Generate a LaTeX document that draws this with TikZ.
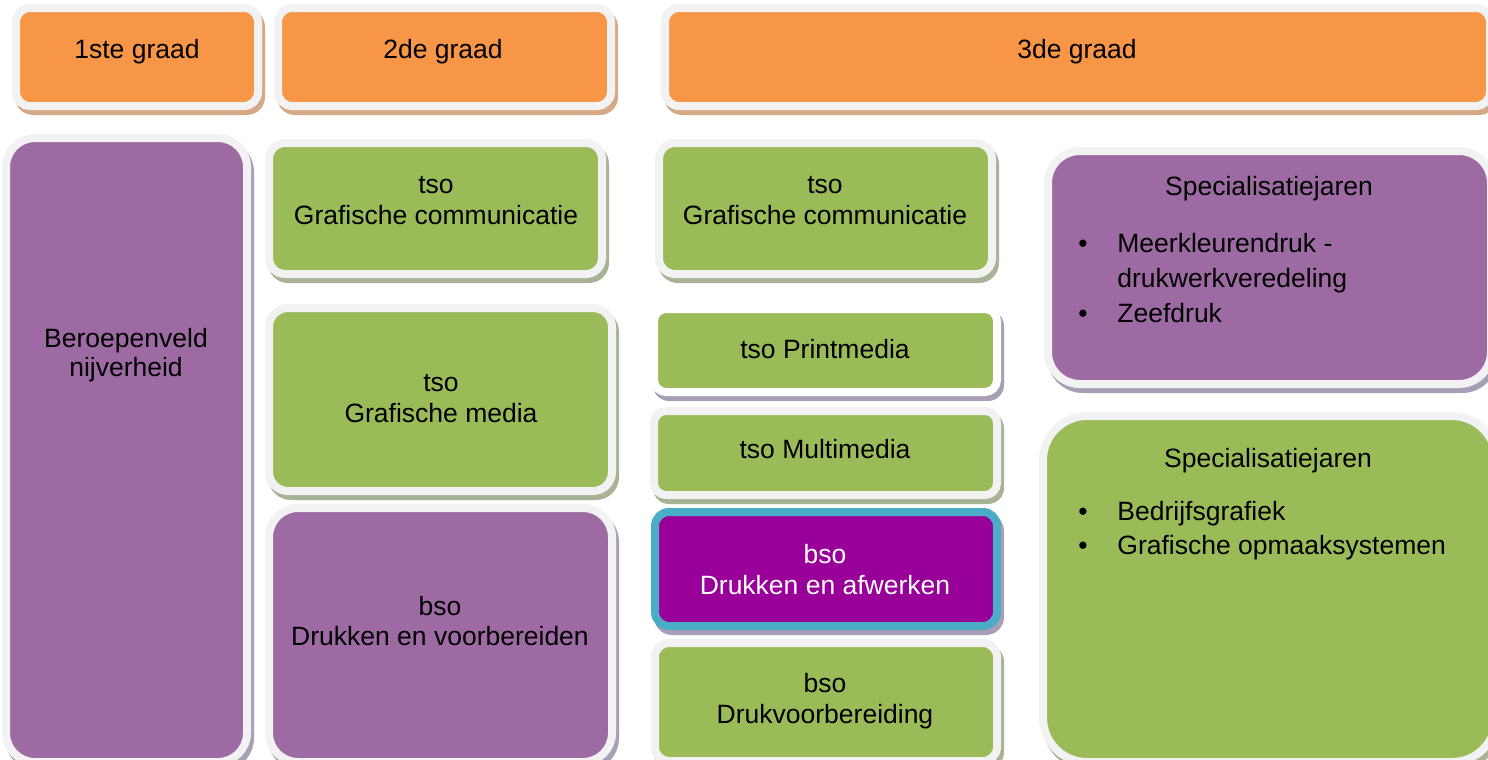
\documentclass[tikz,border=0pt]{standalone}
\usepackage{fontspec}
\setmainfont{Liberation Sans}
\definecolor{orng}{HTML}{F79646}
\definecolor{orngsh}{HTML}{D6A986}
\definecolor{grn}{HTML}{9BBB59}
\definecolor{grnsh}{HTML}{A8B395}
\definecolor{prp}{HTML}{9E6AA3}
\definecolor{prpsh}{HTML}{A89FB6}
\definecolor{mgnt}{HTML}{990099}
\definecolor{teal}{HTML}{4BACC6}
\definecolor{brd}{HTML}{F2F2F2}
\newcommand\bx[9]{%
  \pgfmathsetmacro\bxr{(#6+4)*0.5}%
  \pgfmathsetmacro\bxrs{(#6+8)*0.5}%
  \pgfmathsetmacro\bxw{(#4-#2+8)*0.5}%
  \pgfmathsetmacro\bxh{(#5-#3+8)*0.5}%
  \fill[#9, rounded corners=\bxrs pt] ({#2-8+3},{#3-8+5}) rectangle ({#4+8+3},{#5+8+5});
  \node[boxshape, draw=#8, fill=#7, rounded corners=\bxr pt, minimum width=\bxw pt, minimum height=\bxh pt] (#1) at ({(#2+#4)/2},{(#3+#5)/2}) {};
}
\begin{document}
\begin{tikzpicture}[x=0.5pt,y=-0.5pt,
  boxshape/.style={rectangle, line width=4pt, inner sep=0pt, outer sep=0pt},
  txt/.style={font=\fontsize{13.25}{15.5}\selectfont, inner sep=0pt, anchor=base},
  ltxt/.style={txt, anchor=base west}]
\useasboundingbox (0,0) rectangle (1488,760);
\clip (0,0) rectangle (1488,760);
% header boxes
\bx{o1}{20}{12}{254}{102}{10}{orng}{brd}{orngsh}
\bx{o2}{282}{12}{607}{102}{10}{orng}{brd}{orngsh}
\bx{o3}{669}{12}{1486}{102}{10}{orng}{brd}{orngsh}
% column 1
\bx{p1}{10}{142}{243}{758}{25}{prp}{brd}{prpsh}
% column 2
\bx{g1}{273}{147}{598}{270}{12}{grn}{brd}{grnsh}
\bx{g2}{273}{312}{608}{487}{15}{grn}{brd}{grnsh}
\bx{p2}{273}{512}{608}{758}{25}{prp}{brd}{prpsh}
% column 3
\bx{g3}{663}{147}{988}{270}{12}{grn}{brd}{grnsh}
\bx{g4}{658}{313}{993}{388}{8}{grn}{white}{prpsh}
\bx{g5}{658}{415}{993}{491}{8}{grn}{brd}{grnsh}
\bx{m1}{659}{516}{993}{622}{10}{mgnt}{teal}{prpsh}
\bx{g6}{659}{647}{993}{757}{10}{grn}{brd}{grnsh}
% column 4
\bx{p3}{1052}{155}{1487}{380}{28}{prp}{brd}{prpsh}
\bx{g7}{1047}{420}{1492}{758}{40}{grn}{brd}{grnsh}
% texts
\node[txt] (t1) at (137,58) {1ste graad};
\node[txt] (t2) at (443,58) {2de graad};
\node[txt] (t3) at (1077,58) {3de graad};
\node[txt] (t4a) at (126,347) {Beroepenveld};
\node[txt] (t4b) at (126,376) {nijverheid};
\node[txt] (t5a) at (436,193) {tso};
\node[txt] (t5b) at (436,224) {Grafische communicatie};
\node[txt] (t6a) at (441,391) {tso};
\node[txt] (t6b) at (441,422) {Grafische media};
\node[txt] (t7a) at (440,615) {bso};
\node[txt] (t7b) at (440,645) {Drukken en voorbereiden};
\node[txt] (t8a) at (825,193) {tso};
\node[txt] (t8b) at (825,224) {Grafische communicatie};
\node[txt] (t9) at (825,358) {tso Printmedia};
\node[txt] (t10) at (825,458) {tso Multimedia};
\node[txt, text=white] (t11a) at (825,563) {bso};
\node[txt, text=white] (t11b) at (825,594) {Drukken en afwerken};
\node[txt] (t12a) at (825,692) {bso};
\node[txt] (t12b) at (825,723) {Drukvoorbereiding};
\node[txt] (t13) at (1269,195) {Specialisatiejaren};
\node[txt] (b13a) at (1083,252) {•};
\node[ltxt] (t13a) at (1117,252) {Meerkleurendruk -};
\node[ltxt] (t13b) at (1117,287) {drukwerkveredeling};
\node[txt] (b13c) at (1083,322) {•};
\node[ltxt] (t13c) at (1117,322) {Zeefdruk};
\node[txt] (t14) at (1268,467) {Specialisatiejaren};
\node[txt] (b14a) at (1083,520) {•};
\node[ltxt] (t14a) at (1117,520) {Bedrijfsgrafiek};
\node[txt] (b14b) at (1083,554) {•};
\node[ltxt] (t14b) at (1117,554) {Grafische opmaaksystemen};
\end{tikzpicture}
\end{document}
